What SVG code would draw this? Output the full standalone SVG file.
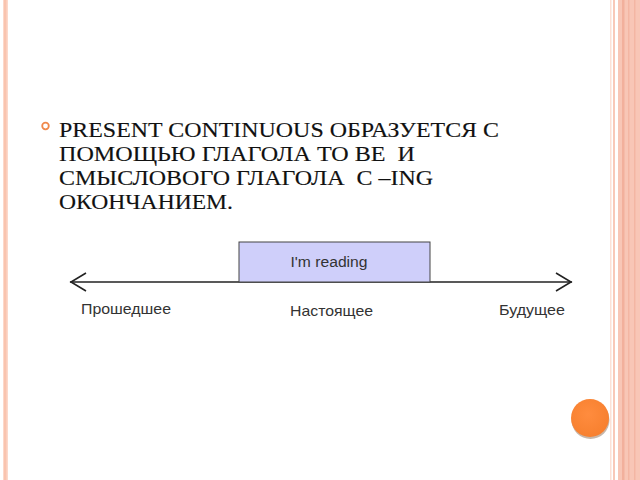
<svg xmlns="http://www.w3.org/2000/svg" width="640" height="480" viewBox="0 0 640 480">
<defs>
<style>
.body{font-family:"Liberation Serif","DejaVu Serif",serif;font-size:22px;fill:#111;stroke:#111;stroke-width:0.15;white-space:pre}
.sans{font-family:"Liberation Sans",Arial,sans-serif;fill:#333}
.axis{stroke:#222;stroke-width:1.6;fill:none}
</style>
<radialGradient id="dotg" cx="0.45" cy="0.4" r="0.6">
<stop offset="0" stop-color="#FF8C3E"/>
<stop offset="1" stop-color="#F7802F"/>
</radialGradient>
</defs>
<rect width="640" height="480" fill="#ffffff"/>
<g id="border-left">
<rect x="3" y="0" width="5" height="480" fill="#FDD8CA"/>
<rect x="4" y="0" width="2.5" height="480" fill="#F9C4AF"/>
</g>
<g id="border-right">
<rect x="610" y="0" width="1.5" height="480" fill="#FCE0D6"/>
<rect x="613" y="0" width="2" height="480" fill="#F8C8B8"/>
<rect x="618" y="0" width="22" height="480" fill="#F8C6B6"/>
<rect x="622" y="0" width="2.5" height="480" fill="#F2B09C"/>
<rect x="628" y="0" width="1.5" height="480" fill="#F3B6A3"/>
<rect x="634" y="0" width="1.5" height="480" fill="#F3B6A3"/>
</g>
<g id="bullet-text">
<circle cx="45.5" cy="126" r="3.3" fill="none" stroke="#F0884A" stroke-width="1.8"/>
<text class="body" x="59" y="137" textLength="440" lengthAdjust="spacingAndGlyphs">PRESENT CONTINUOUS ОБРАЗУЕТСЯ С</text>
<text class="body" x="59" y="161" textLength="356" lengthAdjust="spacingAndGlyphs">ПОМОЩЬЮ ГЛАГОЛА ТО ВЕ  И</text>
<text class="body" x="59" y="185" textLength="374" lengthAdjust="spacingAndGlyphs">СМЫСЛОВОГО ГЛАГОЛА  С –ING</text>
<text class="body" x="59" y="209" textLength="174" lengthAdjust="spacingAndGlyphs">ОКОНЧАНИЕМ.</text>
</g>
<g id="connectors">
<line class="axis" x1="70" y1="282" x2="572" y2="282"/>
<polyline class="axis" points="86,273 71,282 86,291"/>
<polyline class="axis" points="556,273 571,282 556,291"/>
</g>
<g id="node-reading">
<rect x="239" y="242" width="191" height="40" fill="#CFCFFA" stroke="#444" stroke-width="1"/>
<text class="sans" x="329" y="267" font-size="15.5" text-anchor="middle" textLength="77" lengthAdjust="spacingAndGlyphs">I'm reading</text>
</g>
<g id="label-past">
<text class="sans" x="81" y="314" font-size="15" textLength="90" lengthAdjust="spacingAndGlyphs">Прошедшее</text>
</g>
<g id="label-present">
<text class="sans" x="290" y="316" font-size="15" textLength="83" lengthAdjust="spacingAndGlyphs">Настоящее</text>
</g>
<g id="label-future">
<text class="sans" x="499" y="315" font-size="15" textLength="66" lengthAdjust="spacingAndGlyphs">Будущее</text>
</g>
<g id="dot">
<circle cx="590.5" cy="420" r="19" fill="#B9A595" opacity="0.8"/>
<circle cx="590" cy="418" r="19" fill="url(#dotg)"/>
</g>
</svg>
